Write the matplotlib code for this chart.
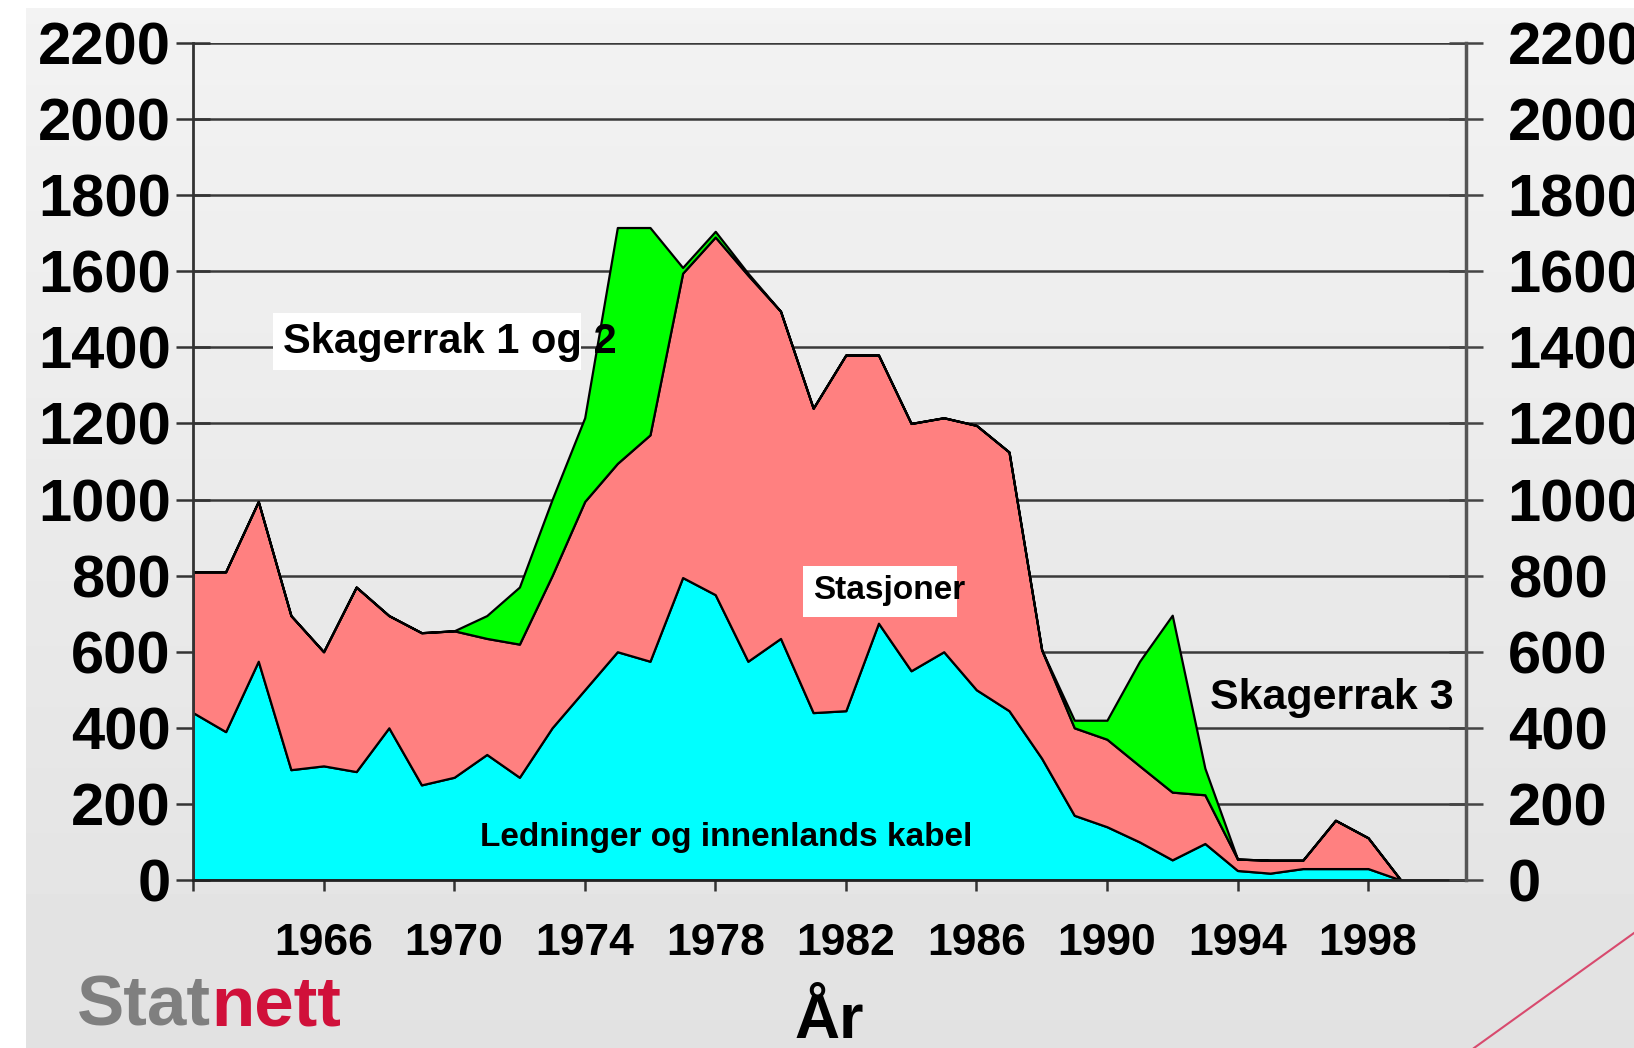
import matplotlib
matplotlib.use("Agg")
import numpy as np
import matplotlib.pyplot as plt
from matplotlib.patches import Rectangle
from matplotlib.lines import Line2D

plt.rcParams['font.family'] = ['Liberation Sans', 'DejaVu Sans']
plt.rcParams['font.weight'] = 'bold'

years = list(range(1962, 2000))
# Ledninger og innenlands kabel
ledninger = [440, 390, 575, 290, 300, 285, 400, 250, 270, 330, 270, 400, 500,
             600, 575, 795, 750, 575, 635, 440, 445, 675, 550, 600, 500, 445,
             320, 170, 140, 100, 53, 96, 25, 18, 30, 30, 30, 0]
# Stasjoner
stasjoner = [370, 420, 420, 405, 300, 485, 295, 400, 385, 305, 350, 400, 495,
             495, 595, 800, 940, 1015, 860, 800, 935, 705, 650, 615, 695, 680,
             285, 230, 230, 200, 178, 128, 30, 34, 22, 127, 81, 0]
# Skagerrak 1 og 2 / Skagerrak 3
skagerrak = [0, 0, 0, 0, 0, 0, 0, 0, 0, 60, 150, 200, 220,
             620, 545, 15, 15, 5, 0, 0, 0, 0, 0, 0, 0, 0,
             0, 20, 50, 275, 465, 70, 0, 0, 0, 0, 0, 0]

yticks = list(range(0, 2201, 200))
xticks = list(range(1962, 2000, 4))
xlabels = ['' if y == 1962 else str(y) for y in xticks]

W, H = 1634, 1048
fig = plt.figure(figsize=(W / 100, H / 100), dpi=100, facecolor='white')

# grey slide background
bg = fig.add_axes([26 / W, 0, 1 - 26 / W, 1 - 8 / H], zorder=-10)
grad = np.linspace(0.95, 0.885, 256).reshape(-1, 1)
bg.imshow(grad, aspect='auto', cmap='gray', vmin=0, vmax=1, extent=[0, 1, 0, 1])
bg.axis('off')

ax = fig.add_axes([193 / W, 1 - 880 / H, (1466 - 193) / W, (880 - 43) / H])
ax.patch.set_alpha(0)

ax.stackplot(years, ledninger, stasjoner, skagerrak,
             colors=['#00ffff', '#ff8080', '#00ff00'],
             edgecolor='black', linewidth=1.6, zorder=2)

ax.set_xlim(1962, 2001)
ax.set_ylim(0, 2200)
ax.set_yticks(yticks)
ax.set_yticklabels([str(v) for v in yticks], fontsize=43, fontweight='bold')
ax.set_xticks(xticks)
ax.set_xticklabels(xlabels, fontsize=32, fontweight='bold')
ax.grid(axis='y', color='#3a3a3a', linewidth=1.8)
ax.set_axisbelow(True)
ax.tick_params(axis='y', direction='inout', length=24, width=1.8, pad=4, colors='#333333', labelcolor='black')
ax.tick_params(axis='x', direction='out', length=8, width=1.8, pad=23, colors='#333333', labelcolor='black')
ax.spines['top'].set_visible(False)
ax.spines['right'].set_visible(False)
ax.spines['left'].set_color('#333333')
ax.spines['left'].set_linewidth(2)
ax.spines['bottom'].set_color('#222222')
ax.spines['bottom'].set_linewidth(2)
ax.set_xlabel('År', fontsize=45, fontweight='bold', labelpad=20)

ax2 = ax.twinx()
ax2.set_ylim(0, 2200)
ax2.set_yticks(yticks)
ax2.set_yticklabels([str(v) for v in yticks], fontsize=43, fontweight='bold')
ax2.tick_params(axis='y', direction='inout', length=24, width=1.8, pad=18, colors='#444444', labelcolor='black')
for s in ['top', 'left', 'bottom']:
    ax2.spines[s].set_visible(False)
ax2.spines['right'].set_color('#555555')
ax2.spines['right'].set_linewidth(2.5)

# labels in the plot
ax.add_patch(Rectangle((1964.45, 1341), 9.45, 150, facecolor='white', edgecolor='none', zorder=3))
ax.text(1964.75, 1415, 'Skagerrak 1 og 2', fontsize=30, fontweight='bold', va='center', ha='left', zorder=4)
ax.add_patch(Rectangle((1980.7, 692), 4.7, 134, facecolor='white', edgecolor='none', zorder=3))
ax.text(1981.0, 762, 'Stasjoner', fontsize=24, fontweight='bold', va='center', ha='left', zorder=4)
ax.text(1993.15, 478, 'Skagerrak 3', fontsize=31, fontweight='bold', va='center', ha='left', zorder=4)
ax.text(1970.8, 112, 'Ledninger og innenlands kabel', fontsize=24, fontweight='bold', va='center', ha='left', zorder=4)

# Statnett logo
t = fig.text(77 / W, 22 / H, 'Stat', fontsize=51, fontweight='bold', color='#7f7f7f', va='baseline', ha='left')
plt.annotate('nett', xy=(1, 0), xycoords=t, va='bottom', ha='left', fontsize=51,
             fontweight='bold', color='#d0103a', annotation_clip=False)

fig.add_artist(Line2D([1474 / W, 1.0], [0, 115 / H], color='#d84a6e', linewidth=1.5))

fig.savefig('out.png', dpi=100, facecolor=fig.get_facecolor())
